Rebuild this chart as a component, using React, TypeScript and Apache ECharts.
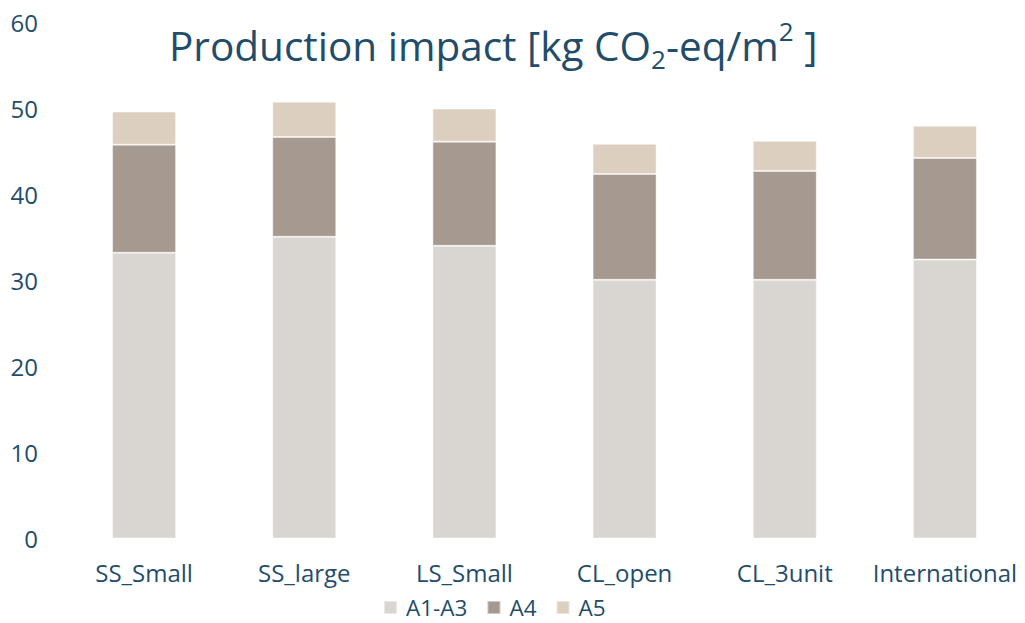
import React, { useEffect, useRef } from "react";
import * as echarts from "echarts";

const categories = ["SS_Small", "SS_large", "LS_Small", "CL_open", "CL_3unit", "International"];
const seriesNames = ["A1-A3", "A4", "A5"];
const a1a3 = [33.2, 35.05, 34.0, 30.05, 30.05, 32.4];
const a4 = [12.55, 11.6, 12.1, 12.3, 12.65, 11.8];
const a5 = [3.85, 4.1, 3.85, 3.5, 3.5, 3.75];
const colors = ["#d9d5d0", "#a6998f", "#ddcfbf"];
const textColor = "#1f4d6b";
const font = "'Open Sans', 'Noto Sans', sans-serif";

export default function App() {
  const ref = useRef<HTMLDivElement>(null);
  useEffect(() => {
    document.body.style.margin = "0";
    const chart = echarts.init(ref.current!, null, { renderer: "svg" });
    const data = [a1a3, a4, a5];
    chart.setOption({
      animation: false,
      textStyle: { fontFamily: font },
      title: {
        left: 164,
        top: 13,
        text: "{a|Production impact [kg CO}{b|2}{a|-eq/m}{c|2}{a| ]}",
        textStyle: {
          fontWeight: "normal",
          rich: {
            a: { fontSize: 40.5, lineHeight: 54, color: textColor, fontFamily: font, fontWeight: "normal" },
            b: { fontSize: 26, lineHeight: 30, verticalAlign: "bottom", color: textColor, fontFamily: font, fontWeight: "normal" },
            c: { fontSize: 26, lineHeight: 38, verticalAlign: "top", color: textColor, fontFamily: font, fontWeight: "normal" },
          },
        },
      },
      legend: {
        top: 591,
        left: 378,
        padding: [5, 5, 0, 5],
        itemWidth: 13,
        itemHeight: 13,
        itemGap: 19,
        icon: "rect",
        data: seriesNames,
        textStyle: { color: textColor, fontSize: 22.5, lineHeight: 20, fontFamily: font, padding: [0, 0, 0, 4] },
      },
      grid: { left: 64, width: 966, top: 22, bottom: 84.5, containLabel: false },
      xAxis: {
        type: "category",
        data: categories,
        axisLine: { show: false },
        axisTick: { show: false },
        axisLabel: { color: textColor, fontSize: 24, margin: 22, fontFamily: font, interval: 0 },
      },
      yAxis: {
        type: "value",
        min: 0,
        max: 60,
        interval: 10,
        splitLine: { show: false },
        axisLine: { show: false },
        axisTick: { show: false },
        axisLabel: { color: textColor, fontSize: 24, margin: 26, fontFamily: font },
      },
      series: seriesNames.map((name, i) => ({
        name,
        type: "bar",
        stack: "total",
        barWidth: 64,
        data: data[i],
        itemStyle: { color: colors[i], borderColor: "rgba(255,255,255,0.45)", borderWidth: 1 },
      })),
    });
    return () => chart.dispose();
  }, []);
  return <div ref={ref} style={{ width: 1025, height: 623 }} />;
}
